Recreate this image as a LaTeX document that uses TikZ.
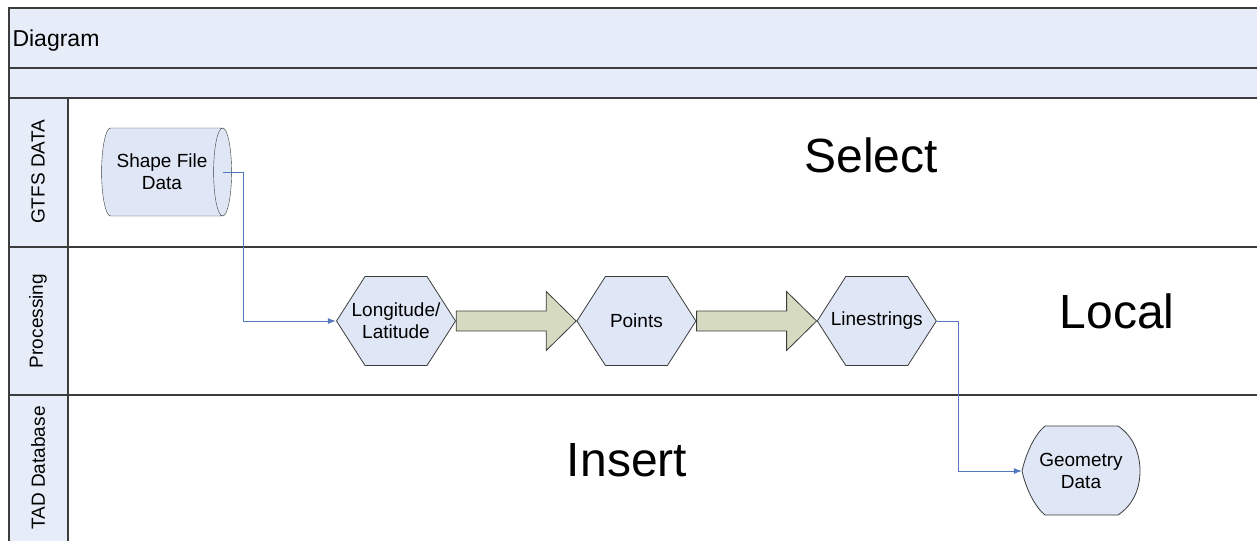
\documentclass[tikz,border=0pt]{standalone}
\usepackage{fontspec}
\setmainfont{Liberation Sans}
\usetikzlibrary{arrows.meta, positioning, shapes.geometric, calc}
\definecolor{bandblue}{RGB}{231,237,248}
\definecolor{vertexblue}{RGB}{223,230,245}
\definecolor{arrowolive}{RGB}{214,218,192}
\definecolor{linkblue}{RGB}{84,120,190}
\definecolor{edgegray}{RGB}{60,60,60}

\begin{document}
\begin{tikzpicture}[x=1pt, y=-1pt,
		frameline/.style={draw=edgegray, line width=1.3pt},
		shapeline/.style={draw=edgegray, fill=vertexblue, line width=0.8pt},
		smalltext/.style={font=\fontsize{19}{22}\selectfont},
		hexvertex/.style={rectangle, minimum width=120pt, minimum height=90pt,
			inner sep=0pt, align=center, smalltext,
			path picture={\filldraw[shapeline]
				($(path picture bounding box.west)+(0.5,0)$)
				-- ($(path picture bounding box.north west)+(29,0.5)$)
				-- ($(path picture bounding box.north east)+(-29,0.5)$)
				-- ($(path picture bounding box.east)+(-0.5,0)$)
				-- ($(path picture bounding box.south east)+(-29,-0.5)$)
				-- ($(path picture bounding box.south west)+(29,-0.5)$) -- cycle;}},
		storevertex/.style={cylinder, aspect=0.5, draw=edgegray, cylinder uses custom fill,
			cylinder body fill=vertexblue, cylinder end fill=vertexblue,
			minimum width=88pt, minimum height=130pt, inner sep=0pt, align=center, smalltext},
		lanelabel/.style={rotate=90, smalltext},
		bigword/.style={font=\fontsize{48}{58}\selectfont},
		link/.style={draw=linkblue, line width=0.8pt, -{Latex[length=8pt,width=6pt]}},
		blockarrow/.style={draw=edgegray, fill=arrowolive, line width=0.8pt}
		]
		\useasboundingbox (0,0) rectangle (1257,541);

		% swimlane frame
		\fill[bandblue] (9,8) rectangle (1257,98);
		\fill[bandblue] (9,98) rectangle (68,541);
		\draw[frameline] (1257,8) -- (9,8) -- (9,541);
		\foreach \y in {68,98,247,395}
			\draw[frameline] (9,\y) -- (1257,\y);
		\draw[frameline] (68,98) -- (68,541);

		\node[font=\fontsize{23}{27}\selectfont, anchor=west] (T0) at (9,41) {Diagram};
		\node[lanelabel] (L1) at (38,172) {GTFS DATA};
		\node[lanelabel] (L2) at (38,321) {Processing};
		\node[lanelabel] (L3) at (38,468) {TAD Database};

		\node[bigword] (T1) at (871,155) {Select};
		\node[bigword] (T2) at (1117,311) {Local};
		\node[bigword] (T3) at (627,460) {Insert};

		% shapes
		\node[storevertex] (D0) at (162,172) {Shape File\\Data};
		\node[hexvertex] (H1) at (396,321) {Longitude/\\Latitude};
		\node[hexvertex, right = 120pt of H1] (H2) {Points};
		\node[hexvertex, right = 120pt of H2] (H3) {Linestrings};

		\coordinate (g) at (1081,471);
		\filldraw[shapeline]
			($(g)+(37,-45)$) .. controls ($(g)+(52,-35)$) and ($(g)+(59,-18)$) .. ($(g)+(59,0)$)
			.. controls ($(g)+(59,18)$) and ($(g)+(52,34)$) .. ($(g)+(37,44)$)
			-- ($(g)+(-36,44)$) .. controls ($(g)+(-46,36)$) and ($(g)+(-55,18)$) .. ($(g)+(-59,0)$)
			.. controls ($(g)+(-55,-18)$) and ($(g)+(-46,-37)$) .. ($(g)+(-36,-45)$) -- cycle;
		\node[smalltext, align=center, minimum width=118pt, minimum height=89pt, inner sep=0pt]
			(D1) at (g) {Geometry\\Data};

		% block arrows
		\draw[blockarrow] ([yshift=10pt]H1.east) -- ([xshift=-30pt,yshift=10pt]H2.west)
			-- ([xshift=-30pt,yshift=29.5pt]H2.west) -- (H2.west)
			-- ([xshift=-30pt,yshift=-29.5pt]H2.west) -- ([xshift=-30pt,yshift=-10pt]H2.west)
			-- ([yshift=-10pt]H1.east) -- cycle;
		\draw[blockarrow] ([yshift=10pt]H2.east) -- ([xshift=-30pt,yshift=10pt]H3.west)
			-- ([xshift=-30pt,yshift=29.5pt]H3.west) -- (H3.west)
			-- ([xshift=-30pt,yshift=-29.5pt]H3.west) -- ([xshift=-30pt,yshift=-10pt]H3.west)
			-- ([yshift=-10pt]H2.east) -- cycle;

		% connectors
		\draw[link] ([xshift=-9pt]D0.east) -- ++(21,0) |- (H1.west);
		\draw[link] (H3.east) -- ++(21,0) |- (D1.west);

	\end{tikzpicture}
\end{document}
